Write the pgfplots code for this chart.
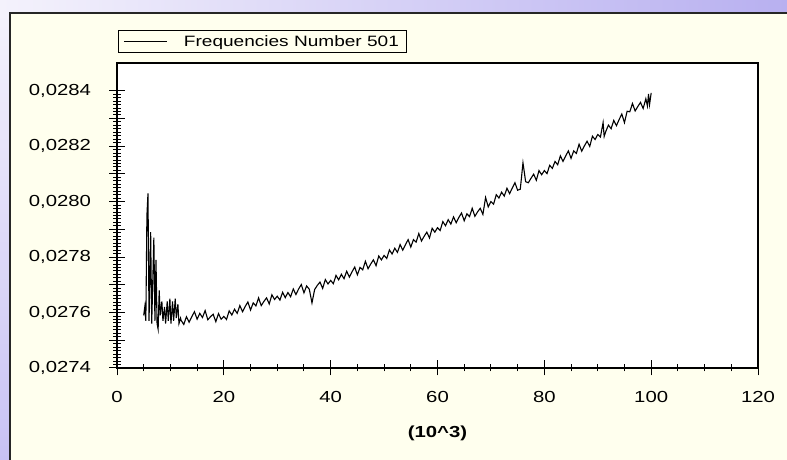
\documentclass[border=0pt]{standalone}
\usepackage{fontspec}
\setmainfont{Liberation Sans}[FakeStretch=1.27]
\usepackage{pgfplots}
\pgfplotsset{compat=1.18}

\definecolor{panel}{RGB}{255,255,238}
\definecolor{lavlight}{RGB}{244,242,252}
\definecolor{lavdark}{RGB}{184,176,240}
\definecolor{lavside}{RGB}{200,194,244}

\newcommand{\chartfont}{\fontsize{15}{17}\selectfont}
\newcommand{\tickfont}{\fontsize{16}{18}\selectfont}

\begin{document}
\begin{tikzpicture}[x=1pt,y=1pt]
\useasboundingbox (0,0) rectangle (787,460);
% window background
\fill[panel] (0,0) rectangle (787,460);
\shade[left color=lavlight, right color=lavdark] (0,447) rectangle (787,460);
\shade[top color=lavlight, bottom color=lavside] (0,0) rectangle (9,447);
\draw[line width=1.8pt, black!85] (10,0) -- (10,447) -- (787,447);

% ticks on the right and top, pointing inwards
\begin{axis}[
  at={(117pt,92pt)}, anchor=south west,
  scale only axis, width=641pt, height=305pt,
  xmin=0, xmax=120, ymin=0.0274, ymax=0.0285,
  axis line style={line width=1.3pt},
  tick align=inside,
  xtick pos=right, ytick pos=right,
  xtick={0,20,40,60,80,100,120}, minor x tick num=3,
  ytick={0.0274,0.0276,0.0278,0.0280,0.0282,0.0284},
  minor y tick num=15,
  major tick length=8pt, minor tick length=5pt,
  tick style={black, line width=1pt},
  xticklabels={}, yticklabels={},
  scaled y ticks=false,
]
\end{axis}

% main axis
\begin{axis}[
  at={(117pt,92pt)}, anchor=south west,
  scale only axis, width=641pt, height=305pt,
  xmin=0, xmax=120, ymin=0.0274, ymax=0.0285,
  axis background/.style={fill=white},
  axis line style={line width=1.3pt},
  tick align=center,
  xtick pos=left, ytick pos=left,
  xtick={0,20,40,60,80,100,120}, minor x tick num=3,
  ytick={0.0274,0.0276,0.0278,0.0280,0.0282,0.0284},
  minor y tick num=15,
  extra y ticks={0.0275,0.0277,0.0279,0.0281,0.0283},
  extra y tick labels={},
  major tick length=15pt, minor tick length=7pt,
  tick style={black, line width=1pt},
  scaled y ticks=false,
  /pgf/number format/assume math mode=true,
  tick label style={font=\tickfont},
  xticklabel style={/pgf/number format/fixed, /pgf/number format/precision=0,
    yshift=-12pt},
  yticklabel style={/pgf/number format/use comma, /pgf/number format/fixed,
    /pgf/number format/fixed zerofill, /pgf/number format/precision=4,
    xshift=-15pt},
  xlabel={\textbf{(10\^{}3)}},
  xlabel style={font=\tickfont, at={(axis description cs:0.5,0)},
    anchor=center, yshift=-65pt},
  legend style={draw=black, line width=0.8pt, fill=none,
    at={(axis description cs:0,1)}, anchor=south west,
    xshift=1pt, yshift=10pt, inner xsep=5pt, inner ysep=3pt,
    font=\chartfont},
  legend image code/.code={\draw[#1] (0pt,0pt) -- (43pt,0pt);
    \path[draw=none, fill=none] (58pt,0pt) circle (0pt);},
]
\addplot[black, line width=1.1pt] coordinates {
(5.0,0.027590) (5.2,0.027620) (5.4,0.027570) (5.6,0.027950) (5.8,0.028030)
(6.0,0.027570) (6.3,0.027890) (6.5,0.027560) (6.9,0.027870) (7.1,0.027570)
(7.3,0.027790) (7.5,0.027560) (7.7,0.027540) (7.9,0.027680) (8.1,0.027590)
(8.4,0.027640) (8.6,0.027570) (8.9,0.027620) (9.1,0.027560) (9.4,0.027640)
(9.6,0.027570) (9.9,0.027650) (10.1,0.027560) (10.4,0.027640) (10.6,0.027570)
(10.9,0.027650) (11.1,0.027580) (11.4,0.027630) (11.6,0.027560) (11.9,0.027580)
(12.0,0.027572) (12.5,0.027557) (13.0,0.027585) (13.5,0.027565) (14.0,0.027585)
(14.5,0.027603) (15.0,0.027576) (15.5,0.027597) (16.0,0.027582) (16.5,0.027607)
(17.0,0.027574) (17.5,0.027585) (18.0,0.027594) (18.5,0.027567) (19.0,0.027596)
(19.5,0.027576) (20.0,0.027586) (20.5,0.027575) (21.0,0.027606) (21.5,0.027591)
(22.0,0.027612) (22.5,0.027597) (23.0,0.027625) (23.5,0.027603) (24.0,0.027622)
(24.5,0.027638) (25.0,0.027609) (25.5,0.027635) (26.0,0.027624) (26.5,0.027653)
(27.0,0.027625) (27.5,0.027640) (28.0,0.027653) (28.5,0.027631) (29.0,0.027664)
(29.5,0.027647) (30.0,0.027659) (30.5,0.027645) (31.0,0.027673) (31.5,0.027654)
(32.0,0.027672) (32.5,0.027657) (33.0,0.027685) (33.5,0.027665) (34.0,0.027685)
(34.5,0.027701) (35.0,0.027671) (35.5,0.027696) (36.0,0.027684) (36.5,0.027635)
(37.0,0.027683) (37.5,0.027698) (38.0,0.027710) (38.5,0.027687) (39.0,0.027719)
(39.5,0.027703) (40.0,0.027716) (40.5,0.027704) (41.0,0.027734) (41.5,0.027718)
(42.0,0.027738) (42.5,0.027722) (43.0,0.027749) (43.5,0.027728) (44.0,0.027747)
(44.5,0.027764) (45.0,0.027736) (45.5,0.027763) (46.0,0.027754) (46.5,0.027785)
(47.0,0.027758) (47.5,0.027775) (48.0,0.027790) (48.5,0.027769) (49.0,0.027804)
(49.5,0.027790) (50.0,0.027806) (50.5,0.027795) (51.0,0.027826) (51.5,0.027811)
(52.0,0.027832) (52.5,0.027817) (53.0,0.027845) (53.5,0.027825) (54.0,0.027845)
(54.5,0.027863) (55.0,0.027836) (55.5,0.027863) (56.0,0.027854) (56.5,0.027885)
(57.0,0.027858) (57.5,0.027875) (58.0,0.027890) (58.5,0.027869) (59.0,0.027904)
(59.5,0.027890) (60.0,0.027906) (60.5,0.027896) (61.0,0.027928) (61.5,0.027913)
(62.0,0.027935) (62.5,0.027919) (63.0,0.027945) (63.5,0.027924) (64.0,0.027943)
(64.5,0.027959) (65.0,0.027931) (65.5,0.027956) (66.0,0.027946) (66.5,0.027976)
(67.0,0.027947) (67.5,0.027963) (68.0,0.027976) (68.5,0.027954) (69.0,0.028015)
(69.5,0.027981) (70.0,0.028000) (70.5,0.027991) (71.0,0.028025) (71.5,0.028013)
(72.0,0.028034) (72.5,0.028020) (73.0,0.028048) (73.5,0.028029) (74.0,0.028049)
(74.5,0.028068) (75.0,0.028041) (75.5,0.028045) (76.0,0.028140) (76.5,0.028072)
(77.0,0.028068) (77.5,0.028084) (78.0,0.028099) (78.5,0.028077) (79.0,0.028112)
(79.5,0.028097) (80.0,0.028112) (80.5,0.028101) (81.0,0.028131) (81.5,0.028120)
(82.0,0.028145) (82.5,0.028133) (83.0,0.028165) (83.5,0.028145) (84.0,0.028165)
(84.5,0.028183) (85.0,0.028156) (85.5,0.028183) (86.0,0.028174) (86.5,0.028207)
(87.0,0.028182) (87.5,0.028201) (88.0,0.028218) (88.5,0.028199) (89.0,0.028236)
(89.5,0.028224) (90.0,0.028242) (90.5,0.028233) (91.0,0.028285) (91.2,0.028235)
(91.5,0.028253) (92.0,0.028276) (92.5,0.028263) (93.0,0.028293) (93.5,0.028274)
(94.0,0.028296) (94.5,0.028316) (95.0,0.028285) (95.5,0.028326) (96.0,0.028324)
(96.5,0.028354) (97.0,0.028327) (97.5,0.028343) (98.0,0.028358) (98.5,0.028336)
(99.0,0.028371) (99.3,0.028345) (99.5,0.028388) (99.7,0.028350) (100.0,0.028392)
};
\addlegendentry{Frequencies Number 501}
\end{axis}
\end{tikzpicture}
\end{document}
